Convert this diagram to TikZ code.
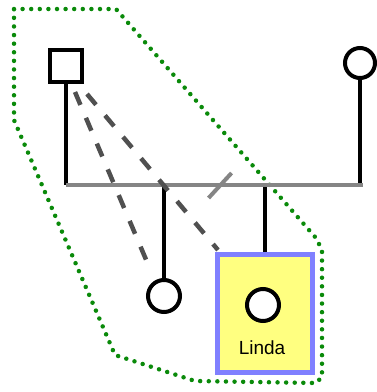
\documentclass[tikz,border=0pt]{standalone}
\usepackage{fontspec}
\setsansfont{Liberation Sans}
\usetikzlibrary{positioning,calc}
\definecolor{pedink}{HTML}{000000}
\definecolor{pedbar}{HTML}{858585}
\definecolor{peddash}{HTML}{505050}
\definecolor{pedhull}{HTML}{0A8A0A}
\definecolor{pedsel}{HTML}{8080FF}
\definecolor{pedfill}{HTML}{FFFF80}
\begin{document}
\begin{tikzpicture}[x=1pt, y=-1pt, font=\sffamily,
  male/.style={draw=pedink, line width=4pt, fill=white, minimum size=32pt, inner sep=0pt},
  female/.style={male, circle},
  sel/.style={draw=pedsel, fill=pedfill, line width=5pt, minimum width=95pt, minimum height=118pt, inner sep=0pt},
  kin/.style={pedink, line width=4pt},
  bar/.style={pedbar, line width=4pt},
  adopt/.style={peddash, line width=4.5pt, dash pattern=on 14pt off 14pt},
  hull/.style={pedhull, line width=4.5pt, dash pattern=on 0pt off 8.6pt, line cap=round, line join=round}]
  \useasboundingbox (0,0) rectangle (376,392);
  \node[male] (father) at (66,66) {};
  \node[female, minimum size=30pt] (mother) at (360,63) {};
  \coordinate (barL) at (66,185);
  \coordinate (barR) at (363,185);
  \node[female] (kid) at (164,296) {};
  \node[sel] (lindabox) at (265,313.5) {};
  \node[female] (linda) at (263,305) {};
  \node[font=\sffamily\fontsize{19}{19}\selectfont, anchor=base] (name) at (262,354) {Linda};
  \draw[hull] (14,9) -- (116,9) -- (316,238) -- (322,250) -- (322,377) -- (316,383)
    -- (195,381) -- (115,355) -- (14,120) -- cycle;
  \draw[kin] (father.south) -- (barL);
  \draw[kin] (mother.south) -- (mother.south |- barR);
  \draw[kin] (kid.north) -- (kid.north |- barL);
  \draw[kin] (lindabox.north) -- (lindabox.north |- barL);
  \draw[bar] (barL) -- (barR);
  \draw[bar] ($(barL)!0.48!(barR)+(0,13)$) -- ++(23,-25);
  \draw[adopt] ($(father.south)+(9,8)$) -- ($(kid.north west)+(-2,-16)$);
  \draw[adopt] ($(father.south east)+(3,10)$) -- ($(lindabox.north west)+(3,-2)$);
\end{tikzpicture}
\end{document}
